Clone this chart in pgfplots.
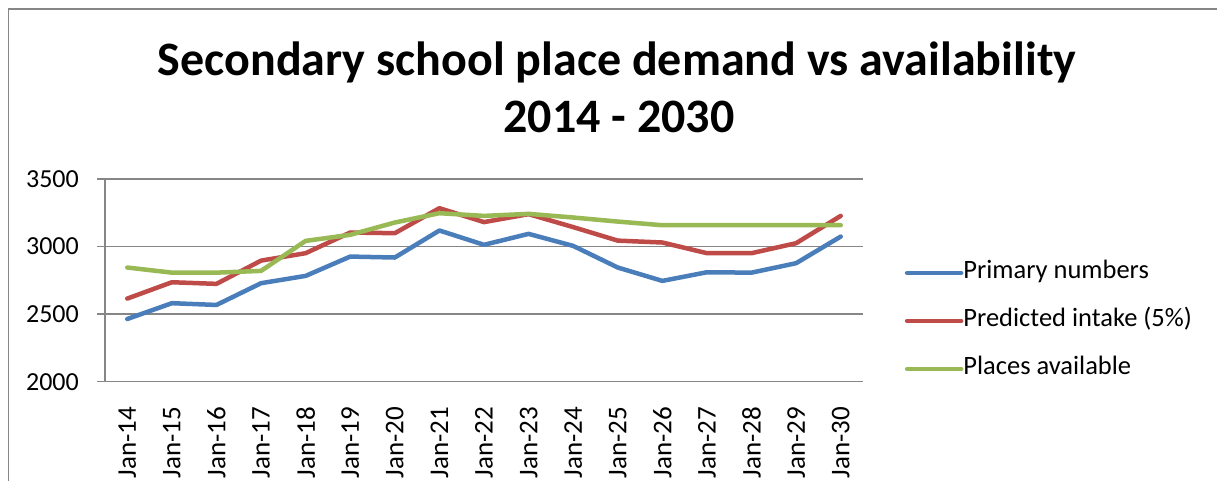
\documentclass[border=0pt]{standalone}
\usepackage{fontspec}
\setmainfont{Carlito}
\usepackage{pgfplots}
\pgfplotsset{compat=1.18}
\definecolor{xlblue}{HTML}{4A7EBB}
\definecolor{xlred}{HTML}{BE4B48}
\definecolor{xlgreen}{HTML}{98B954}
\definecolor{xlgrid}{HTML}{868686}
\begin{document}
\begin{tikzpicture}
\clip (0pt,0pt) rectangle (1217pt,-481pt);
\fill[white] (0pt,0pt) rectangle (1217pt,-481pt);
\draw[xlgrid, line width=1.5pt] (8.5pt,-600pt) -- (8.5pt,-9pt) -- (1300pt,-9pt);
\node[anchor=base, font=\fontsize{48}{57}\selectfont\bfseries] at (617pt,-76pt) {Secondary school place demand vs availability};
\node[anchor=base, font=\fontsize{48}{57}\selectfont\bfseries] at (619pt,-133pt) {2014 - 2030};
\begin{axis}[
  at={(105pt,-381.7pt)}, anchor=south west,
  scale only axis, width=758pt, height=202.7pt,
  xmin=-0.5, xmax=16.5, ymin=2000, ymax=3500,
  axis x line=bottom, axis y line=left,
  axis line style={-, xlgrid, line width=1.5pt},
  xtick={0,...,16},
  xticklabels={Jan-14,Jan-15,Jan-16,Jan-17,Jan-18,Jan-19,Jan-20,Jan-21,Jan-22,Jan-23,Jan-24,Jan-25,Jan-26,Jan-27,Jan-28,Jan-29,Jan-30},
  xtick style={draw=none},
  minor xtick={-0.5,0.5,...,16.5},
  minor x tick style={xlgrid, line width=1.5pt},
  ytick={2000,2500,3000,3500},
  yticklabels={2000,2500,3000,3500},
  y tick style={xlgrid, line width=1.5pt},
  tick align=outside,
  major tick length=8pt, minor tick length=8pt,
  ymajorgrids, grid style={xlgrid, line width=1.5pt},
  tick label style={font=\fontsize{26}{31}\selectfont, text=black},
  xticklabel style={rotate=90, anchor=east, inner sep=0pt, inner xsep=17pt, font=\fontsize{27}{31}\selectfont},
  yticklabel style={anchor=east, inner sep=0pt, xshift=-18pt},
  legend style={draw=none, fill=none, at={(1.055,0.30)}, anchor=west, inner sep=0pt,
    font=\fontsize{26.5}{31}\selectfont, row sep=24pt,
    nodes={inner sep=0pt, text height=18pt, text depth=6pt}},
  legend cell align=left,
  legend image code/.code={\draw[#1, line width=4.5pt, line cap=round] (0pt,0pt) -- (54pt,0pt);},
  every axis plot/.append style={line width=4.5pt, line cap=round, line join=round, mark=none},
]
\addplot[xlblue] coordinates {(0,2464) (1,2581) (2,2568) (3,2729) (4,2783) (5,2926) (6,2919) (7,3119) (8,3013) (9,3094) (10,3005) (11,2845) (12,2746) (13,2810) (14,2807) (15,2877) (16,3074)};
\addlegendentry{Primary numbers}
\addplot[xlred] coordinates {(0,2615) (1,2736) (2,2724) (3,2896) (4,2951) (5,3104) (6,3099) (7,3284) (8,3181) (9,3240) (10,3144) (11,3044) (12,3030) (13,2951) (14,2951) (15,3025) (16,3227)};
\addlegendentry{Predicted intake (5\%)}
\addplot[xlgreen] coordinates {(0,2845) (1,2807) (2,2807) (3,2820) (4,3042) (5,3087) (6,3178) (7,3247) (8,3227) (9,3242) (10,3215) (11,3185) (12,3158) (13,3158) (14,3158) (15,3158) (16,3158)};
\addlegendentry{Places available}
\end{axis}
\end{tikzpicture}
\end{document}
